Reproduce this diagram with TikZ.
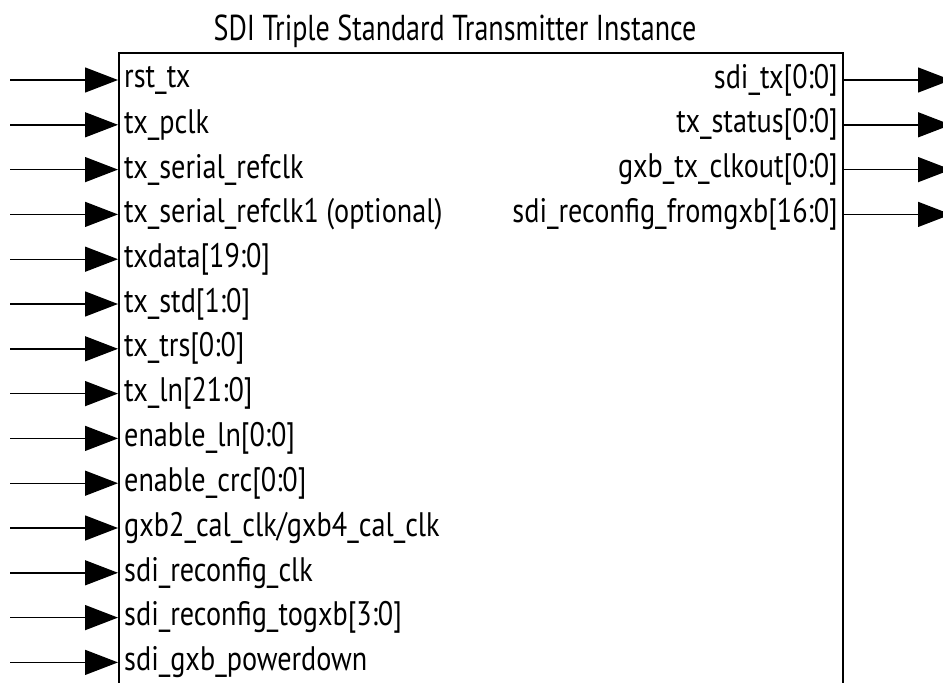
\documentclass[tikz,border=0pt]{standalone}
\usepackage{fontspec}
\setmainfont{PT Sans}[FakeStretch=0.78]
\newfontfamily\pinfont{PT Sans}[FakeStretch=0.83]
\usetikzlibrary{arrows.meta}

\begin{document}
\begin{tikzpicture}[x=1pt,y=-1pt,
  pinline/.style={line width=1.4pt,-{Triangle[length=33pt,width=25pt]}},
  boxline/.style={line width=1.3pt},
  inlabel/.style={anchor=west,inner sep=0pt,font=\pinfont\fontsize{34}{34}\selectfont},
  outlabel/.style={anchor=east,inner sep=0pt,font=\pinfont\fontsize{34}{34}\selectfont},
  titlelabel/.style={anchor=base,inner sep=0pt,font=\fontsize{36}{36}\selectfont}]
\useasboundingbox (0,0) rectangle (943,683);
\clip (0,0) rectangle (943,683);

% instance title
\node[titlelabel] (title) at (455,40) {SDI Triple Standard Transmitter Instance};

% instance body, open at the bottom
\coordinate (bl) at (119,690);
\coordinate (tl) at (119,53);
\coordinate (tr) at (843,53);
\coordinate (br) at (843,690);
\draw[boxline] (bl) -- (tl) -- (tr) -- (br);

% input ports
\foreach \name [count=\i from 0] in {
  rst\_tx,
  tx\_pclk,
  tx\_serial\_refclk,
  tx\_serial\_refclk1 (optional),
  txdata[19:0],
  tx\_std[1:0],
  tx\_trs[0:0],
  tx\_ln[21:0],
  enable\_ln[0:0],
  enable\_crc[0:0],
  gxb2\_cal\_clk/gxb4\_cal\_clk,
  sdi\_reconfig\_clk,
  sdi\_reconfig\_togxb[3:0],
  sdi\_gxb\_powerdown}{
  \pgfmathsetmacro{\py}{80+44.8*\i}
  \coordinate (src\i) at (10,\py);
  \coordinate (pin\i) at (118,\py);
  \node[inlabel] (lbl\i) at (124,\py) {\name};
  \draw[pinline] (src\i) -- (pin\i);
}

% output ports
\foreach \name [count=\i from 0] in {
  sdi\_tx[0:0],
  tx\_status[0:0],
  gxb\_tx\_clkout[0:0],
  sdi\_reconfig\_fromgxb[16:0]}{
  \pgfmathsetmacro{\py}{80+44.8*\i}
  \coordinate (pout\i) at (843,\py);
  \coordinate (dst\i) at (951,\py);
  \node[outlabel] (olbl\i) at (838,\py) {\name};
  \draw[pinline] (pout\i) -- (dst\i);
}
\end{tikzpicture}
\end{document}
